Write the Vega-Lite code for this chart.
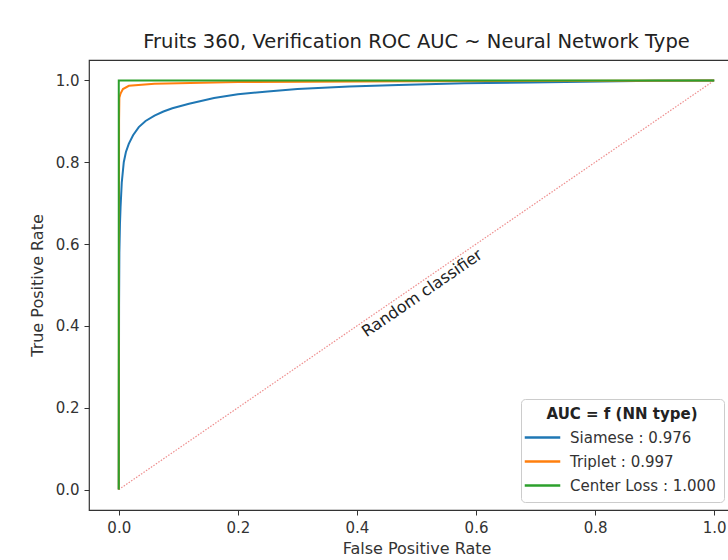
{
  "$schema": "https://vega.github.io/schema/vega-lite/v6.json",
  "width": 655,
  "height": 450,
  "padding": {"left": 29, "top": 31, "right": 0, "bottom": 0},
  "background": "white",
  "title": {
    "text": "Fruits 360, Verification ROC AUC ~ Neural Network Type",
    "fontSize": 19.5,
    "font": "DejaVu Sans",
    "fontWeight": "normal",
    "color": "#222",
    "offset": 8
  },
  "config": {
    "font": "DejaVu Sans",
    "view": {"stroke": "#333", "strokeWidth": 1.2},
    "axis": {
      "grid": false,
      "domain": false,
      "tickColor": "#333",
      "tickSize": 5,
      "labelPadding": 5,
      "labelFontSize": 15,
      "labelColor": "#333",
      "titleFontSize": 16,
      "titleFontWeight": "normal",
      "titleColor": "#333",
      "titlePadding": 10
    }
  },
  "datasets": {
    "curves": [
      {"model": "Siamese : 0.976", "order": 0, "fpr": 0.0, "tpr": 0.0},
      {"model": "Siamese : 0.976", "order": 1, "fpr": 0.0005, "tpr": 0.45},
      {"model": "Siamese : 0.976", "order": 2, "fpr": 0.001, "tpr": 0.58},
      {"model": "Siamese : 0.976", "order": 3, "fpr": 0.002, "tpr": 0.65},
      {"model": "Siamese : 0.976", "order": 4, "fpr": 0.003, "tpr": 0.69},
      {"model": "Siamese : 0.976", "order": 5, "fpr": 0.005, "tpr": 0.75},
      {"model": "Siamese : 0.976", "order": 6, "fpr": 0.0084, "tpr": 0.80},
      {"model": "Siamese : 0.976", "order": 7, "fpr": 0.012, "tpr": 0.825},
      {"model": "Siamese : 0.976", "order": 8, "fpr": 0.0168, "tpr": 0.845},
      {"model": "Siamese : 0.976", "order": 9, "fpr": 0.024, "tpr": 0.866},
      {"model": "Siamese : 0.976", "order": 10, "fpr": 0.0336, "tpr": 0.886},
      {"model": "Siamese : 0.976", "order": 11, "fpr": 0.045, "tpr": 0.901},
      {"model": "Siamese : 0.976", "order": 12, "fpr": 0.06, "tpr": 0.914},
      {"model": "Siamese : 0.976", "order": 13, "fpr": 0.075, "tpr": 0.924},
      {"model": "Siamese : 0.976", "order": 14, "fpr": 0.09, "tpr": 0.932},
      {"model": "Siamese : 0.976", "order": 15, "fpr": 0.118, "tpr": 0.943},
      {"model": "Siamese : 0.976", "order": 16, "fpr": 0.16, "tpr": 0.957},
      {"model": "Siamese : 0.976", "order": 17, "fpr": 0.2, "tpr": 0.966},
      {"model": "Siamese : 0.976", "order": 18, "fpr": 0.25, "tpr": 0.973},
      {"model": "Siamese : 0.976", "order": 19, "fpr": 0.3, "tpr": 0.979},
      {"model": "Siamese : 0.976", "order": 20, "fpr": 0.387, "tpr": 0.985},
      {"model": "Siamese : 0.976", "order": 21, "fpr": 0.47, "tpr": 0.989},
      {"model": "Siamese : 0.976", "order": 22, "fpr": 0.58, "tpr": 0.993},
      {"model": "Siamese : 0.976", "order": 23, "fpr": 0.69, "tpr": 0.995},
      {"model": "Siamese : 0.976", "order": 24, "fpr": 0.81, "tpr": 0.9975},
      {"model": "Siamese : 0.976", "order": 25, "fpr": 0.9, "tpr": 0.999},
      {"model": "Siamese : 0.976", "order": 26, "fpr": 1.0, "tpr": 1.0},
      {"model": "Triplet : 0.997", "order": 0, "fpr": 0.0, "tpr": 0.0},
      {"model": "Triplet : 0.997", "order": 1, "fpr": 0.0005, "tpr": 0.9},
      {"model": "Triplet : 0.997", "order": 2, "fpr": 0.001, "tpr": 0.958},
      {"model": "Triplet : 0.997", "order": 3, "fpr": 0.003, "tpr": 0.968},
      {"model": "Triplet : 0.997", "order": 4, "fpr": 0.007, "tpr": 0.979},
      {"model": "Triplet : 0.997", "order": 5, "fpr": 0.017, "tpr": 0.987},
      {"model": "Triplet : 0.997", "order": 6, "fpr": 0.06, "tpr": 0.992},
      {"model": "Triplet : 0.997", "order": 7, "fpr": 0.2, "tpr": 0.996},
      {"model": "Triplet : 0.997", "order": 8, "fpr": 0.5, "tpr": 0.998},
      {"model": "Triplet : 0.997", "order": 9, "fpr": 1.0, "tpr": 1.0},
      {"model": "Center Loss : 1.000", "order": 0, "fpr": 0.0, "tpr": 0.0},
      {"model": "Center Loss : 1.000", "order": 1, "fpr": 0.0, "tpr": 1.0},
      {"model": "Center Loss : 1.000", "order": 2, "fpr": 1.0, "tpr": 1.0}
    ],
    "diag": [
      {"fpr": 0.0, "tpr": 0.0},
      {"fpr": 1.0, "tpr": 1.0}
    ],
    "label": [
      {"fpr": 0.5, "tpr": 0.5, "text": "Random classifier"}
    ]
  },
  "layer": [
    {
      "data": {"name": "diag"},
      "mark": {"type": "line", "color": "#e03030", "opacity": 0.55, "strokeWidth": 1.2, "strokeDash": [1.5, 1.5]},
      "encoding": {
        "x": {"field": "fpr", "type": "quantitative", "scale": {"domain": [-0.05, 1.05], "nice": false, "zero": false}},
        "y": {"field": "tpr", "type": "quantitative", "scale": {"domain": [-0.05, 1.05], "nice": false, "zero": false}}
      }
    },
    {
      "data": {"name": "label"},
      "mark": {"type": "text", "angle": -34.5, "align": "center", "baseline": "top", "dy": 2, "fontSize": 16, "color": "#222"},
      "encoding": {
        "x": {"field": "fpr", "type": "quantitative"},
        "y": {"field": "tpr", "type": "quantitative"},
        "text": {"field": "text"}
      }
    },
    {
      "data": {"name": "curves"},
      "mark": {"type": "line", "strokeWidth": 2, "clip": true},
      "encoding": {
        "x": {
          "field": "fpr", "type": "quantitative",
          "scale": {"domain": [-0.05, 1.05], "nice": false, "zero": false},
          "axis": {"title": "False Positive Rate", "titlePadding": 5, "values": [0, 0.2, 0.4, 0.6, 0.8, 1.0], "format": ".1f"}
        },
        "y": {
          "field": "tpr", "type": "quantitative",
          "scale": {"domain": [-0.05, 1.05], "nice": false, "zero": false},
          "axis": {"title": "True Positive Rate", "values": [0, 0.2, 0.4, 0.6, 0.8, 1.0], "format": ".1f"}
        },
        "order": {"field": "order", "type": "quantitative"},
        "color": {
          "field": "model", "type": "nominal",
          "scale": {
            "domain": ["Siamese : 0.976", "Triplet : 0.997", "Center Loss : 1.000"],
            "range": ["#1f77b4", "#ff7f0e", "#2ca02c"]
          },
          "legend": {
            "title": "AUC = f (NN type)",
            "orient": "none",
            "legendX": 432,
            "legendY": 339,
            "titleFontSize": 15,
            "titleFontWeight": "bold",
            "titleColor": "#222",
            "titleAnchor": "middle",
            "titlePadding": 2,
            "labelFontSize": 15,
            "labelColor": "#333",
            "labelOffset": 14,
            "symbolType": "M-1.45,0H1.45",
            "symbolSize": 600,
            "symbolStrokeWidth": 2.5,
            "rowPadding": 2,
            "padding": 8,
            "fillColor": "white",
            "strokeColor": "#ccc",
            "cornerRadius": 4
          }
        }
      }
    }
  ]
}
